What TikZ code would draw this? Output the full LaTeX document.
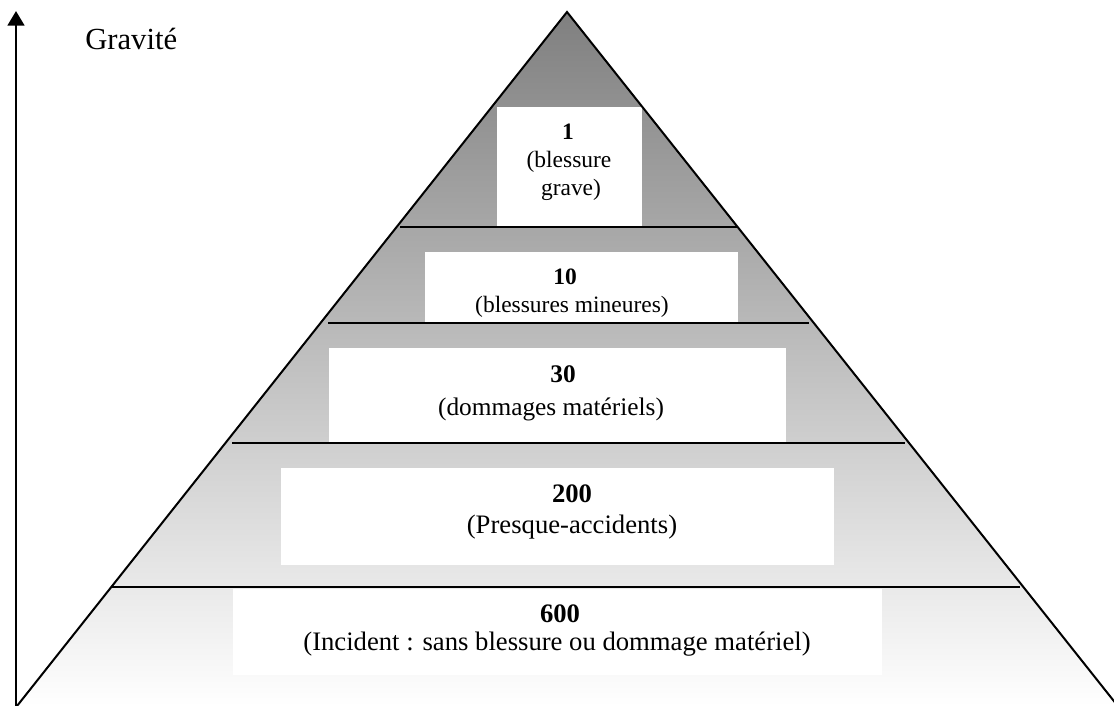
\documentclass[tikz,border=0pt]{standalone}
\usepackage{fontspec}
\setmainfont{Liberation Serif}
\usetikzlibrary{arrows.meta}
\definecolor{pyrtop}{gray}{0.5}
\begin{document}
\begin{tikzpicture}[x=0.75pt,y=-0.75pt,
  edgeline/.style={line width=1.5pt, line join=miter},
  tierline/.style={line width=1.5pt},
  whitebox/.style={fill=white},
  bignum/.style={font=\fontsize{20}{24}\selectfont\bfseries, anchor=base, inner sep=0pt},
  biglbl/.style={font=\fontsize{20}{24}\selectfont, anchor=base, inner sep=0pt},
  midnum/.style={font=\fontsize{19}{23}\selectfont\bfseries, anchor=base, inner sep=0pt},
  midlbl/.style={font=\fontsize{19}{23}\selectfont, anchor=base, inner sep=0pt},
  smallnum/.style={font=\fontsize{17.6}{21}\selectfont\bfseries, anchor=base, inner sep=0pt},
  smalllbl/.style={font=\fontsize{17.6}{21}\selectfont, anchor=base, inner sep=0pt},
  axislbl/.style={font=\fontsize{23}{27}\selectfont, anchor=base west, inner sep=0pt},
  axisarrow/.style={line width=2pt, -{Triangle[length=11pt,width=12.5pt]}}
]
\useasboundingbox (0,0) rectangle (1114,706);
\fill[white] (0,0) rectangle (1114,706);
\clip (0,0) rectangle (1114,706);

% pyramid corners
\coordinate (apex) at (567,12);
\coordinate (bl) at (17,706);
\coordinate (br) at (1117.8,706);

% shaded body
\shade[top color=pyrtop, bottom color=white] (bl) -- (apex) -- (br) -- cycle;

% white boxes
\fill[whitebox] (497,107) rectangle (642,227);
\fill[whitebox] (425,252) rectangle (738,323);
\fill[whitebox] (329,348) rectangle (786,442);
\fill[whitebox] (281,468) rectangle (834,565);
\fill[whitebox] (233,589) rectangle (882,675);

% tier lines
\coordinate (l1a) at (400,227); \coordinate (l1b) at (738,227);
\coordinate (l2a) at (328,323); \coordinate (l2b) at (809,323);
\coordinate (l3a) at (232,443); \coordinate (l3b) at (905,443);
\coordinate (l4a) at (112,587); \coordinate (l4b) at (1020,587);
\draw[tierline] (l1a) -- (l1b);
\draw[tierline] (l2a) -- (l2b);
\draw[tierline] (l3a) -- (l3b);
\draw[tierline] (l4a) -- (l4b);

% pyramid sides
\draw[edgeline] (bl) -- (apex) -- (br);

% axis
\coordinate (axisbot) at (16,706);
\coordinate (axistop) at (16,11);
\draw[axisarrow] (axisbot) -- (axistop);
\node[axislbl] (grav) at (85,50) {Gravité};

% texts
\node[smallnum] (n1) at (568,140) {1};
\node[smalllbl] (t1a) at (569,168) {(blessure};
\node[smalllbl] (t1b) at (571,196) {grave)};

\node[smallnum] (n10) at (565,284) {10};
\node[smalllbl] (t10) at (572,312) {(blessures mineures)};

\node[midnum] (n30) at (563,382) {30};
\node[midlbl] (t30) at (551,415) {(dommages matériels)};

\node[bignum] (n200) at (572,502) {200};
\node[biglbl] (t200) at (572,533) {(Presque-accidents)};

\node[bignum] (n600) at (560,622) {600};
\node[biglbl] (t600) at (557,650) {(Incident : sans blessure ou dommage matériel)};
\end{tikzpicture}
\end{document}
